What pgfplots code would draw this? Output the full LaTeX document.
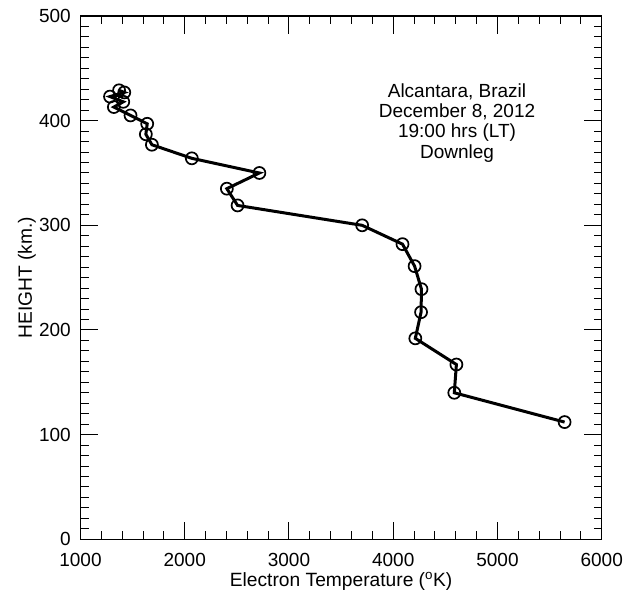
\documentclass[border=0pt]{standalone}
\usepackage{pgfplots}
\pgfplotsset{compat=1.18}
\usepackage{fontspec}
\setmainfont{Liberation Sans}
\begin{document}
\begin{tikzpicture}
\begin{axis}[
  name=ax,
  scale only axis,
  width=521.2pt, height=523.3pt,
  xmin=1000, xmax=6000, ymin=0, ymax=500,
  xtick={1000,2000,3000,4000,5000,6000},
  ytick={0,100,200,300,400,500},
  minor x tick num=4,
  minor y tick num=9,
  major tick length=17.7pt,
  minor tick length=8pt,
  tick align=inside,
  tick pos=both,
  axis line style={line width=1.3pt},
  every tick/.style={black, line width=1pt},
  /pgf/number format/assume math mode=true,
  /pgf/number format/set thousands separator={},
  ticklabel style={font=\fontsize{19}{20.4}\selectfont},
  xticklabel style={inner sep=0pt, anchor=north, yshift=-14pt},
  yticklabel style={inner sep=0pt, anchor=east, xshift=-9.5pt},
  xlabel={Electron Temperature (\textsuperscript{o}K)},
  ylabel={HEIGHT (km.)},
  label style={font=\fontsize{19.2}{20.4}\selectfont, inner sep=0pt},
  xlabel style={at={(axis description cs:0.5,0)}, anchor=base, yshift=-47.4pt},
  ylabel style={at={(axis description cs:-0.1026,0.5)}, anchor=center},
]
\addplot[black, line width=3pt, mark=o, mark size=6pt,
  mark options={line width=1.7pt, fill=none}] coordinates {
 (1370,429) (1420,427) (1283,423) (1410,418) (1320,413) (1480,405)
 (1640,397) (1627,387) (1685,377) (2068,364) (2716,350) (2404,335)
 (2507,319) (3702,300) (4089,282) (4205,261) (4271,239) (4267,217)
 (4212,192) (4606,167) (4586,140) (5644,112)
};
\node[align=center, font=\fontsize{19}{20.4}\selectfont, anchor=center]
  at (axis cs:4612,398) {Alcantara, Brazil\\December 8, 2012\\19:00 hrs (LT)\\Downleg};
\end{axis}
\path[use as bounding box] ([shift={(-80.5pt,-52.7pt)}]ax.south west) rectangle ([shift={(35.3pt,16pt)}]ax.north east);
\end{tikzpicture}
\end{document}
